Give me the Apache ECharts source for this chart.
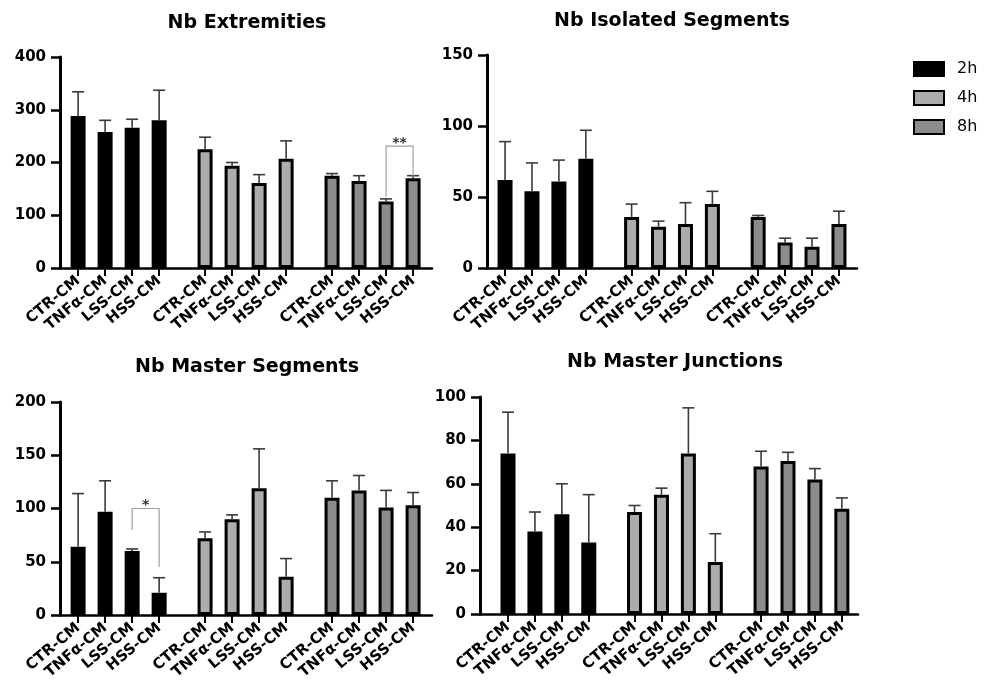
<!DOCTYPE html>
<html>
<head>
<meta charset="utf-8">
<script src="https://cdn.jsdelivr.net/npm/echarts@6/dist/echarts.min.js"></script>
<style>
  html, body { margin: 0; padding: 0; background: #fff; }
  #chart { width: 993px; height: 686px; }
</style>
</head>
<body>
<div id="chart"></div>
<script>
// groups / categories
const categories = ["CTR-CM", "TNFα-CM", "LSS-CM", "HSS-CM"];
const times = ["2h", "4h", "8h"];
const groupOffsets = [0, 4.7, 9.4];

// Nb Extremities
const extMean2h = [288, 258, 266, 280];
const extErr2h = [46, 22, 16, 57];
const extMean4h = [225, 194, 161, 207];
const extErr4h = [23, 6, 16, 34];
const extMean8h = [175, 165, 126, 170];
const extErr8h = [4, 10, 5, 5];

// Nb Isolated Segments
const isoMean2h = [62, 54, 61, 77];
const isoErr2h = [27, 20, 15, 20];
const isoMean4h = [36, 29, 31, 45];
const isoErr4h = [9, 4, 15, 9];
const isoMean8h = [36, 18, 15, 31];
const isoErr8h = [1, 3, 6, 9];

// Nb Master Segments
const msMean2h = [64, 97, 60, 21];
const msErr2h = [50, 29, 2, 14];
const msMean4h = [72, 90, 119, 36];
const msErr4h = [6, 4, 37, 17];
const msMean8h = [110, 117, 101, 103];
const msErr8h = [16, 14, 16, 12];

// Nb Master Junctions
const mjMean2h = [74, 38, 46, 33];
const mjErr2h = [19, 9, 14, 22];
const mjMean4h = [47, 55, 74, 24];
const mjErr4h = [3, 3, 21, 13];
const mjMean8h = [68, 70.5, 62, 48.5];
const mjErr8h = [7, 4, 5, 5];

// significance brackets: [fromBar, toBar, top, leftEnd, rightEnd, label]
const extSig = [[10, 11, 231, 135, 173, "**"]];
const msSig = [[2, 3, 100, 80, 45, "*"]];

// y ticks: [min, max, interval]
const extTicks = [0, 400, 100];
const isoTicks = [0, 150, 50];
const msTicks = [0, 200, 50];
const mjTicks = [0, 100, 20];

const colors = ["#000000", "#acacac", "#8c8c8c"];
const font = "DejaVu Sans";

const positions = [];
const labels = [];
groupOffsets.forEach(function(g) {
  categories.forEach(function(c, i) {
    positions.push(g + i);
    labels.push(c);
  });
});

const panels = [
  { title: "Nb Extremities", means: [extMean2h, extMean4h, extMean8h], errs: [extErr2h, extErr4h, extErr8h], ticks: extTicks, sig: extSig,
    grid: { left: 60, top: 57, width: 372, height: 211 }, xr: [-0.67, 13.1], tx: 247, ty: 14 },
  { title: "Nb Isolated Segments", means: [isoMean2h, isoMean4h, isoMean8h], errs: [isoErr2h, isoErr4h, isoErr8h], ticks: isoTicks, sig: [],
    grid: { left: 487, top: 55, width: 370, height: 213 }, xr: [-0.67, 13.07], tx: 672, ty: 12 },
  { title: "Nb Master Segments", means: [msMean2h, msMean4h, msMean8h], errs: [msErr2h, msErr4h, msErr8h], ticks: msTicks, sig: msSig,
    grid: { left: 60, top: 402, width: 372, height: 213 }, xr: [-0.67, 13.1], tx: 247, ty: 358 },
  { title: "Nb Master Junctions", means: [mjMean2h, mjMean4h, mjMean8h], errs: [mjErr2h, mjErr4h, mjErr8h], ticks: mjTicks, sig: [],
    grid: { left: 480, top: 397, width: 378, height: 217 }, xr: [-1.04, 13.0], tx: 675, ty: 353 }
];

function labelFor(v) {
  const i = positions.findIndex(function(p) { return Math.abs(p - v) < 1e-6; });
  return i < 0 ? "" : labels[i];
}

const option = {
  backgroundColor: "#fff",
  animation: false,
  title: [],
  grid: [],
  xAxis: [],
  yAxis: [],
  series: [],
  legend: {
    orient: "vertical",
    left: 913,
    top: 61,
    padding: 0,
    icon: "rect",
    itemWidth: 30,
    itemHeight: 14,
    itemGap: 13,
    data: times,
    textStyle: { fontFamily: font, fontSize: 16, color: "#000", padding: [0, 0, 0, 8] }
  }
};

panels.forEach(function(p, k) {
  option.title.push({
    text: p.title,
    left: p.tx,
    top: p.ty,
    textAlign: "center",
    padding: 0,
    textStyle: { fontFamily: font, fontSize: 19, fontWeight: "bold", color: "#000" }
  });
  option.grid.push(p.grid);
  option.xAxis.push({
    type: "value",
    gridIndex: k,
    min: p.xr[0],
    max: p.xr[1],
    splitLine: { show: false },
    axisLine: { onZero: false, lineStyle: { color: "#000", width: 2.5 } },
    axisTick: { show: true, length: 8, customValues: positions, lineStyle: { color: "#000", width: 2 } },
    axisLabel: {
      customValues: positions,
      rotate: 40,
      margin: 11,
      fontFamily: font,
      fontWeight: "bold",
      fontSize: 15,
      color: "#000",
      formatter: labelFor
    }
  });
  option.yAxis.push({
    type: "value",
    gridIndex: k,
    min: p.ticks[0],
    max: p.ticks[1],
    interval: p.ticks[2],
    splitLine: { show: false },
    axisLine: { show: true, onZero: false, lineStyle: { color: "#000", width: 3 } },
    axisTick: { show: true, length: 9, lineStyle: { color: "#000", width: 2.5 } },
    axisLabel: { margin: 14, fontFamily: font, fontWeight: "bold", fontSize: 15, color: "#000" }
  });

  // bars
  times.forEach(function(t, g) {
    option.series.push({
      name: t,
      type: "bar",
      xAxisIndex: k,
      yAxisIndex: k,
      barWidth: 15,
      barGap: "-100%",
      itemStyle: { color: colors[g], borderColor: "#000", borderWidth: 3 },
      data: p.means[g].map(function(v, i) { return [groupOffsets[g] + i, v]; })
    });
  });

  // error bars (upper)
  const errData = [];
  times.forEach(function(t, g) {
    p.means[g].forEach(function(v, i) {
      errData.push([groupOffsets[g] + i, v, v + p.errs[g][i]]);
    });
  });
  option.series.push({
    type: "custom",
    xAxisIndex: k,
    yAxisIndex: k,
    z: 5,
    encode: { x: 0, y: [1, 2] },
    data: errData,
    renderItem: function(params, api) {
      const a = api.coord([api.value(0), api.value(1)]);
      const b = api.coord([api.value(0), api.value(2)]);
      const style = { stroke: "#3a3a3a", lineWidth: 1.6 };
      return {
        type: "group",
        children: [
          { type: "line", shape: { x1: a[0], y1: a[1], x2: b[0], y2: b[1] }, style: style },
          { type: "line", shape: { x1: b[0] - 6, y1: b[1], x2: b[0] + 6, y2: b[1] }, style: style }
        ]
      };
    }
  });

  // significance brackets
  if (p.sig.length) {
    option.series.push({
      type: "custom",
      xAxisIndex: k,
      yAxisIndex: k,
      z: 6,
      encode: { x: [0, 1], y: [2, 3, 4] },
      data: p.sig.map(function(s) {
        return [positions[s[0]], positions[s[1]], s[2], s[3], s[4], s[5]];
      }),
      renderItem: function(params, api) {
        const x1 = api.value(0), x2 = api.value(1), top = api.value(2);
        const l = api.coord([x1, api.value(3)]);
        const lt = api.coord([x1, top]);
        const rt = api.coord([x2, top]);
        const r = api.coord([x2, api.value(4)]);
        return {
          type: "group",
          children: [
            { type: "polyline", shape: { points: [l, lt, rt, r] }, style: { stroke: "#a0a0a0", lineWidth: 1.2, fill: null } },
            { type: "text", x: (lt[0] + rt[0]) / 2, y: lt[1] - 3,
              style: { text: api.value(5), fontFamily: font, fontWeight: "bold", fontSize: 14, fill: "#333", align: "center", verticalAlign: "middle" } }
          ]
        };
      }
    });
  }
});

const chart = echarts.init(document.getElementById("chart"));
chart.setOption(option);
</script>
</body>
</html>
